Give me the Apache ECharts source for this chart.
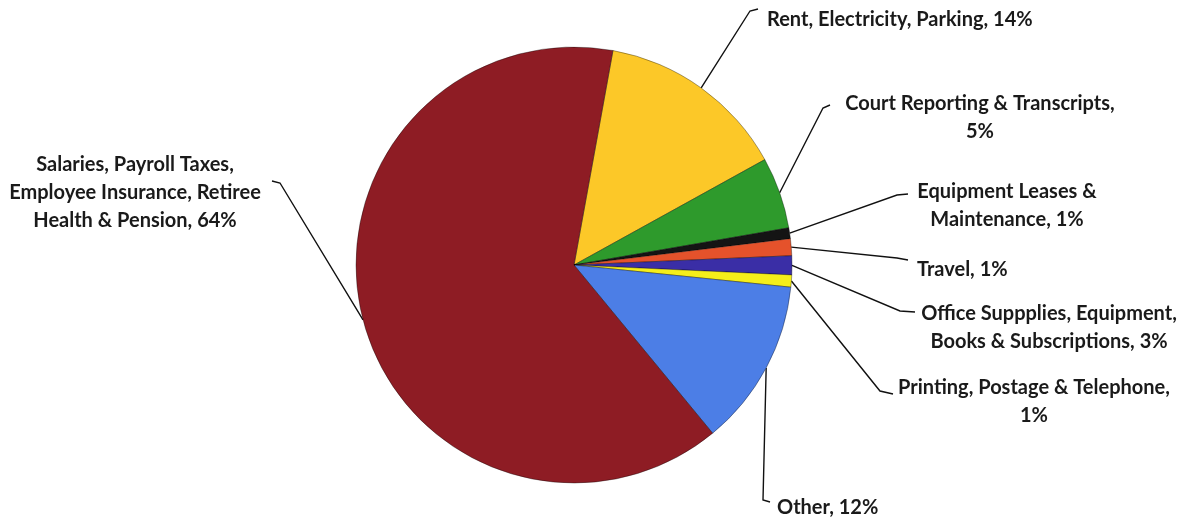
<!DOCTYPE html>
<html>
<head>
<meta charset="utf-8">
<script src="https://cdn.jsdelivr.net/npm/echarts@6/dist/echarts.min.js"></script>
<style>
  html, body { margin: 0; padding: 0; background: #fff; }
  #chart { width: 1186px; height: 521px; }
</style>
</head>
<body>
<div id="chart"></div>
<script>
  // slices, clockwise from just right of 12 o'clock
  const categories = [
    'Rent, Electricity, Parking',
    'Court Reporting & Transcripts',
    'Equipment Leases & Maintenance',
    'Travel',
    'Office Suppplies, Equipment, Books & Subscriptions',
    'Printing, Postage & Telephone',
    'Other',
    'Salaries, Payroll Taxes, Employee Insurance, Retiree Health & Pension',
  ]
  const values = [14.1, 5.3, 0.8, 1.25, 1.4, 0.9, 12.4, 63.8]
  const labelText = [
    'Rent, Electricity, Parking, 14%',
    'Court Reporting & Transcripts,\n5%',
    'Equipment Leases &\nMaintenance, 1%',
    'Travel, 1%',
    'Office Suppplies, Equipment,\nBooks & Subscriptions, 3%',
    'Printing, Postage & Telephone,\n1%',
    'Other, 12%',
    'Salaries, Payroll Taxes,\nEmployee Insurance, Retiree\nHealth & Pension, 64%',
  ]
  const colors = ['#FCC828', '#2E9A2C', '#141414', '#E5522B', '#3A2EA6', '#F5EE1A', '#4C7EE6', '#8E1C24']

  // where each label sits and how its leader line bends
  const labelPos = [
    { x: 767, y: 20, align: 'left', elbow: [750, 11], end: [758, 9] },
    { x: 980, y: 118, align: 'center', elbow: [823, 108], end: [830, 105] },
    { x: 1007, y: 206, align: 'center', elbow: [897, 195], end: [908, 194] },
    { x: 917, y: 270, align: 'left', elbow: [897, 258], end: [908, 260] },
    { x: 1049, y: 328, align: 'center', elbow: [900, 311], end: [915, 312] },
    { x: 1034, y: 402, align: 'center', elbow: [880, 391], end: [893, 394] },
    { x: 777, y: 508, align: 'left', elbow: [763, 500], end: [770, 502] },
    { x: 135, y: 193, align: 'center', elbow: [280, 183], end: [272, 181] },
  ]

  const chart = echarts.init(document.getElementById('chart'))

  const option = {
    backgroundColor: '#fff',
    animation: false,
    series: [
      {
        type: 'pie',
        center: [574, 265],
        radius: 218,
        startAngle: 79.7,
        clockwise: true,
        avoidLabelOverlap: false,
        itemStyle: { borderColor: 'rgba(0,0,0,0.35)', borderWidth: 1 },
        label: {
          show: true,
          position: 'outside',
          formatter: (p) => labelText[p.dataIndex],
          color: '#1a1a1a',
          fontFamily: 'Lato',
          fontWeight: 'bold',
          fontSize: 20,
          lineHeight: 28,
        },
        labelLine: {
          show: true,
          length: 20,
          length2: 10,
          lineStyle: { color: '#111', width: 1.4 },
        },
        labelLayout: (params) => {
          const pos = labelPos[params.dataIndex]
          const pts = params.labelLinePoints
          const start = pts && pts[0] ? pts[0] : pos.elbow
          return {
            x: pos.x,
            y: pos.y,
            align: pos.align,
            verticalAlign: 'middle',
            labelLinePoints: [start, pos.elbow, pos.end],
          }
        },
        emphasis: { disabled: true },
        data: categories.map((name, i) => ({
          name,
          value: values[i],
          itemStyle: { color: colors[i] },
        })),
      },
    ],
  }

  chart.setOption(option)
</script>
</body>
</html>
